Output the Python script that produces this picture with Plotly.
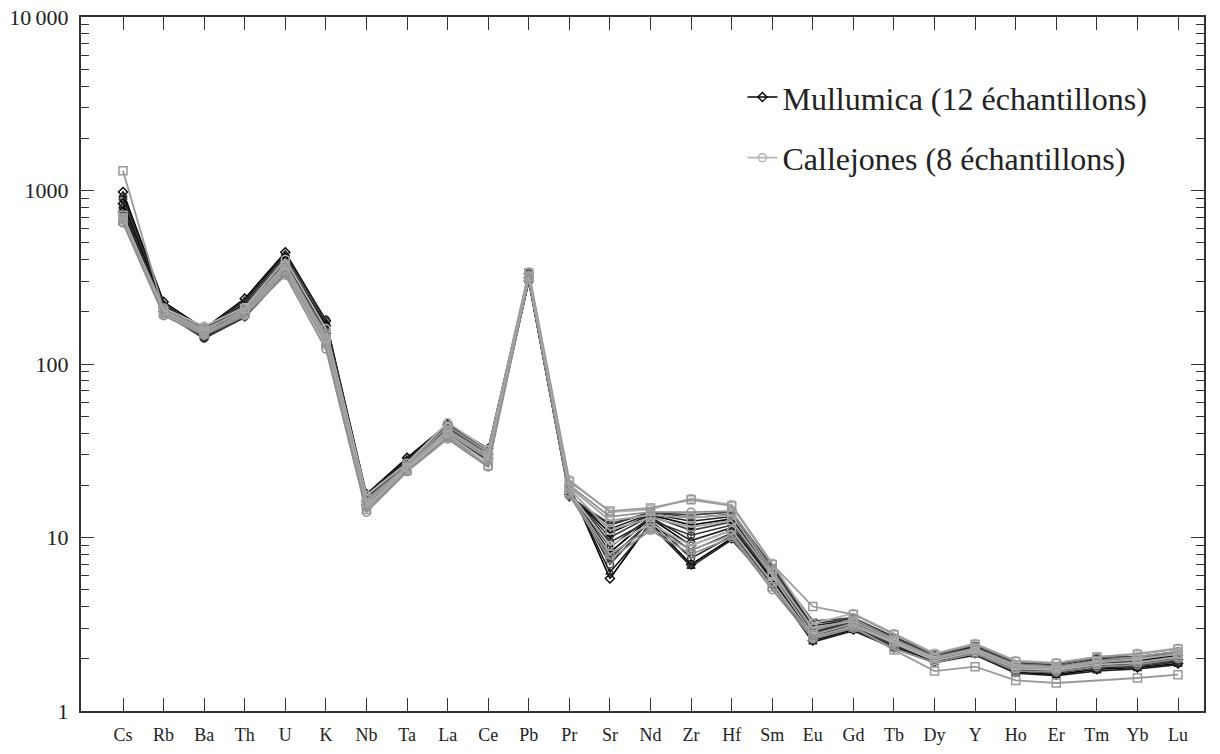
import plotly.graph_objects as go

elements = ["Cs", "Rb", "Ba", "Th", "U", "K", "Nb", "Ta", "La", "Ce", "Pb", "Pr", "Sr", "Nd",
            "Zr", "Hf", "Sm", "Eu", "Gd", "Tb", "Dy", "Y", "Ho", "Er", "Tm", "Yb", "Lu"]

# normalised concentrations, one row per sample (order as in `elements`)
mullumica = [
    [980, 228, 160, 238, 440, 178, 17.8, 28.8, 45, 32.5, 333, 19.8, 5.8, 12.2, 7.0, 9.9, 5.4, 2.55, 2.95, 2.35, 1.93, 2.15, 1.68, 1.62, 1.74, 1.78, 1.88],
    [940, 222, 156, 232, 430, 175, 17.2, 28.2, 44, 31.8, 328, 19.4, 6.3, 11.8, 6.8, 9.7, 5.3, 2.5, 2.9, 2.3, 1.9, 2.1, 1.65, 1.6, 1.7, 1.75, 1.85],
    [900, 218, 152, 226, 420, 180, 16.8, 27.8, 43, 31.2, 322, 19.1, 7.0, 12.6, 7.6, 10.2, 5.5, 2.62, 3.0, 2.38, 1.96, 2.18, 1.7, 1.65, 1.78, 1.8, 1.92],
    [870, 215, 150, 220, 405, 170, 16.5, 27.4, 42.5, 30.8, 318, 18.8, 7.6, 12.4, 8.4, 10.6, 5.6, 2.68, 3.05, 2.42, 1.98, 2.2, 1.72, 1.67, 1.8, 1.83, 1.95],
    [840, 212, 148, 214, 395, 166, 16.2, 27.0, 41.8, 30.2, 315, 18.5, 8.2, 12.9, 9.0, 11.0, 5.7, 2.72, 3.1, 2.45, 2.0, 2.22, 1.74, 1.69, 1.83, 1.86, 1.98],
    [815, 209, 146, 208, 382, 162, 16.0, 26.6, 41.0, 29.8, 312, 18.3, 8.8, 13.1, 9.6, 11.4, 5.8, 2.78, 3.15, 2.48, 2.02, 2.25, 1.76, 1.71, 1.86, 1.89, 2.01],
    [795, 206, 145, 203, 372, 158, 15.8, 26.3, 40.4, 29.4, 309, 18.1, 9.4, 12.6, 10.3, 11.8, 5.95, 2.85, 3.2, 2.5, 2.03, 2.27, 1.78, 1.73, 1.88, 1.92, 2.04],
    [775, 204, 143, 198, 362, 154, 15.6, 26.0, 39.8, 29.0, 306, 17.9, 10.0, 13.3, 11.0, 12.3, 6.1, 2.9, 3.25, 2.53, 2.05, 2.3, 1.8, 1.75, 1.91, 1.95, 2.07],
    [755, 201, 142, 194, 352, 150, 15.4, 25.7, 39.2, 28.6, 304, 17.7, 10.6, 13.5, 11.8, 12.8, 6.25, 3.0, 3.3, 2.57, 2.07, 2.32, 1.82, 1.77, 1.94, 1.97, 2.1],
    [735, 199, 141, 190, 345, 146, 15.2, 25.4, 38.6, 28.2, 302, 17.5, 11.2, 13.7, 12.4, 13.2, 6.4, 3.1, 3.35, 2.61, 2.09, 2.35, 1.84, 1.79, 1.97, 2.0, 2.13],
    [715, 197, 140, 187, 338, 143, 15.0, 25.1, 38.0, 27.8, 300, 17.3, 11.8, 14.0, 13.0, 13.6, 6.6, 3.2, 3.4, 2.65, 2.1, 2.37, 1.86, 1.81, 2.0, 2.02, 2.16],
    [700, 196, 141, 185, 332, 140, 15.1, 24.9, 37.8, 27.5, 301, 17.0, 12.0, 13.9, 13.5, 14.0, 6.8, 3.3, 3.45, 2.68, 2.12, 2.4, 1.9, 1.85, 2.05, 2.05, 2.2],
]

callejones = [
    [690, 210, 165, 212, 400, 160, 17.5, 26.8, 46, 32, 340, 21.5, 14.0, 14.5, 16.8, 15.5, 7.1, 3.2, 3.65, 2.8, 2.15, 2.45, 1.95, 1.9, 2.05, 2.15, 2.3],
    [1300, 205, 160, 200, 360, 150, 16.5, 26.0, 44, 31, 335, 21.0, 14.2, 14.8, 16.5, 15.2, 7.0, 4.0, 3.6, 2.75, 2.12, 2.42, 1.93, 1.88, 2.05, 2.12, 2.28],
    [680, 200, 158, 205, 380, 145, 16.0, 25.6, 42, 30, 325, 20.0, 13.2, 14.0, 14.0, 14.2, 6.5, 2.9, 3.4, 2.6, 2.05, 2.3, 1.85, 1.8, 1.95, 2.05, 2.2],
    [665, 195, 152, 198, 355, 135, 15.2, 25.0, 40, 28.5, 318, 19.0, 11.0, 13.0, 11.5, 12.5, 6.0, 2.75, 3.2, 2.5, 2.0, 2.25, 1.8, 1.75, 1.9, 2.0, 2.12],
    [655, 192, 148, 192, 340, 128, 14.8, 24.5, 39, 27, 312, 18.2, 9.0, 12.0, 9.0, 11.0, 5.5, 2.65, 3.1, 2.45, 1.95, 2.2, 1.75, 1.72, 1.85, 1.9, 2.05],
    [700, 198, 150, 195, 345, 132, 14.5, 24.3, 38, 26, 315, 18.0, 8.0, 11.3, 8.5, 10.3, 5.2, 2.7, 3.05, 2.25, 1.7, 1.8, 1.5, 1.45, None, 1.55, 1.62],
    [650, 190, 146, 190, 325, 122, 14.0, 24.0, 37, 25.5, 310, 17.5, 7.5, 11.0, 8.0, 10.0, 5.0, 2.6, 3.0, 2.3, 1.9, 2.15, 1.7, 1.68, 1.8, 1.85, 2.0],
    [720, 202, 155, 208, 370, 140, 15.8, 25.3, 41, 29.5, 320, 19.5, 12.5, 13.5, 13.0, 13.5, 6.2, 3.0, 3.3, 2.55, 2.02, 2.28, 1.83, 1.78, 1.92, 1.98, 2.15],
]

m_symbols = ["diamond-open", "triangle-up-open", "circle-open", "triangle-down-open"]
m_colors = ["#000000", "#1e1e1e", "#2e2e2e", "#3c3c3c"]
c_symbols = ["circle-open", "square-open"]
c_colors = ["#b4b4b4", "#999999", "#8f8f8f", "#a4a4a4"]

FONT = "Liberation Serif"

fig = go.Figure()

for i, row in enumerate(mullumica):
    fig.add_trace(go.Scatter(
        x=elements, y=row, mode="lines+markers",
        name="Mullumica (12 échantillons)", legendgroup="m", showlegend=(i == 0),
        line=dict(color=m_colors[i % 4], width=1.6),
        marker=dict(symbol=m_symbols[i % 4], size=7, color=m_colors[i % 4], line=dict(width=1.4)),
        connectgaps=True,
    ))

for i, row in enumerate(callejones):
    fig.add_trace(go.Scatter(
        x=elements, y=row, mode="lines+markers",
        name="Callejones (8 échantillons)", legendgroup="c", showlegend=(i == 0),
        line=dict(color=c_colors[i % 4], width=1.8),
        marker=dict(symbol=c_symbols[i % 2], size=8, color=c_colors[i % 4], line=dict(width=1.5)),
        connectgaps=True,
    ))

minor_vals = [m * 10 ** d for d in range(4) for m in range(2, 10)]

fig.update_layout(
    width=1220, height=754,
    margin=dict(l=81, r=16, t=17, b=43),
    plot_bgcolor="#fff", paper_bgcolor="#fff",
    font=dict(family=FONT, color="#222", size=18),
    legend=dict(
        x=0.589, y=0.924, xanchor="left", yanchor="top",
        font=dict(family=FONT, size=32, color="#222"),
        bgcolor="rgba(0,0,0,0)", tracegroupgap=16,
    ),
    xaxis=dict(
        range=[-1.035, 26.64], automargin=False,
        showline=True, linecolor="#333", linewidth=2, mirror="ticks",
        ticks="inside", ticklen=13, tickwidth=1.2, tickcolor="#333",
        showgrid=False, zeroline=False,
        tickfont=dict(size=18), ticklabelstandoff=6,
    ),
    yaxis=dict(
        type="log", range=[0, 4], automargin=False,
        showline=True, linecolor="#333", linewidth=2, mirror="ticks",
        ticks="inside", ticklen=13, tickwidth=1.2, tickcolor="#333",
        tickvals=[1, 10, 100, 1000, 10000],
        ticktext=["1", "10", "100", "1000", "10\u2009000"],
        minor=dict(tickmode="array", tickvals=minor_vals, ticks="inside", ticklen=8,
                   tickwidth=1.2, tickcolor="#333", showgrid=False),
        showgrid=False, zeroline=False, ticklabeloverflow="allow",
        tickfont=dict(size=22), ticklabelstandoff=6,
    ),
)

# drop the default body margin so the figure sits at the page corner
fig.write_html("out.html", config={"displayModeBar": False},
               post_script="document.body.style.margin='0';")
